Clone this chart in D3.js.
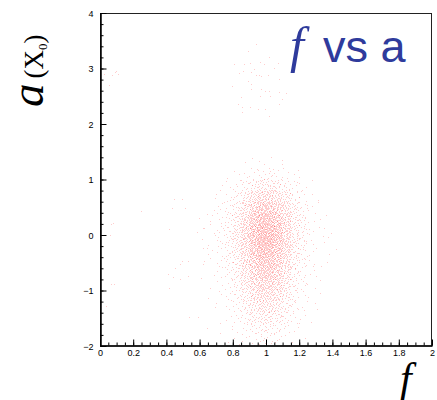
<!DOCTYPE html>
<html>
<head>
<meta charset="utf-8">
<script src="https://cdn.jsdelivr.net/npm/d3@7"></script>
<style>
  html,body{margin:0;padding:0;background:#fff;}
  svg{display:block;}
  .tick text{font-family:"Liberation Sans",Arial,sans-serif;font-size:9px;fill:#000;}
</style>
</head>
<body>
<svg id="chart" width="437" height="400"></svg>
<script>
// axis ranges + tick values
const fDomain = [0, 2];
const aDomain = [-2, 4];
const fMajor = d3.range(0, 2.001, 0.2);
const fMinor = d3.range(0, 2.001, 0.05);
const aMajor = [-2, -1, 0, 1, 2, 3, 4];
const aMinor = d3.range(-2, 4.001, 0.2);

// main cloud, read as counts per cell: f bins of 0.05 from 0.6, a bins of 0.2 from -2.0 (bottom row first)
const fBinStart = 0.6, fBinWidth = 0.05;
const aBinStart = -2.0, aBinWidth = 0.2;
const cloudCounts = [
  [0,0,0,1,2,2,4,6,6,4,2,1,1,0,0,0],          // -2.0..-1.8
  [0,0,1,1,2,4,8,10,10,8,4,2,1,0,0,0],
  [0,0,1,2,4,8,14,18,18,14,8,4,2,1,0,0],
  [0,1,1,2,6,12,20,28,26,20,12,6,2,1,0,0],
  [0,1,2,4,8,16,28,36,34,28,16,8,3,1,1,0],
  [0,1,2,4,10,22,36,46,44,36,22,10,4,2,1,0],
  [1,1,2,6,12,26,44,58,56,44,26,12,4,2,1,0],
  [1,1,4,8,16,32,52,70,66,52,32,14,6,2,1,1],
  [1,2,4,8,18,36,60,80,76,60,36,16,6,2,1,1],
  [1,2,4,10,20,40,68,90,86,68,40,18,8,2,1,1],
  [1,2,4,9,20,40,66,88,82,66,40,18,7,2,1,1],
  [1,2,4,8,17,34,58,76,72,58,36,18,7,2,1,1],
  [0,1,3,6,12,26,44,58,56,44,28,14,5,2,1,0],
  [0,1,2,4,8,18,28,38,36,28,18,9,4,1,1,0],
  [0,0,1,2,4,8,14,18,18,14,9,4,2,1,0,0],
  [0,0,0,1,2,2,4,6,6,4,3,2,1,0,0,0],
  [0,0,0,0,0,1,1,2,2,1,1,0,0,0,0,0]           // 1.2..1.4
];

// sparse points outside the cloud, [f, a]
const upperCluster = [
  [0.944,3.44],[0.894,3.31],[1.024,3.19],[0.813,3.07],[0.873,3.07],[0.908,3.09],[0.968,3.10],
  [0.990,3.08],[1.054,3.00],[1.078,3.09],[0.863,2.95],[0.930,2.98],[0.840,2.91],[0.910,2.92],
  [0.940,2.88],[0.960,2.87],[0.975,2.85],[1.014,2.87],[0.897,2.76],[1.084,2.81],[0.797,2.68],
  [0.913,2.71],[0.913,2.63],[0.970,2.62],[0.994,2.59],[1.020,2.58],[1.080,2.56],[1.124,2.55],
  [0.964,2.50],[1.030,2.50],[0.853,2.48],[1.100,2.45],[0.837,2.35],[0.859,2.29],[0.908,2.29],
  [0.953,2.27],[0.998,2.27],[0.859,2.20],[1.020,2.13],[1.084,2.35]
];
const leftCluster = [
  [0.030,2.89],[0.074,2.88],[0.094,2.93],[0.110,2.90],[0.056,2.70],[0.100,2.95]
];
const strayPoints = [
  [0.070,0.19],[0.080,0.20],[0.066,-0.005],[0.070,-0.89],[0.090,-0.89],[0.040,-1.28],
  [0.250,0.42],[0.446,0.64],[0.495,0.64],[0.434,0.48],[0.518,0.48],[0.420,0.10],[0.586,0.05],
  [0.626,0.11],[0.646,0.37],[0.626,-0.24],[0.494,-0.47],[0.536,-0.47],[0.482,-0.54],[0.454,-0.60],
  [0.412,-0.72],[0.443,-0.76],[0.532,-0.75],[0.482,-0.81],[0.418,-0.96],[0.626,-0.53],
  [0.542,-1.48],[0.592,-1.49],[0.646,-1.68],
  [1.214,0.79],[1.205,0.47],[1.249,0.47],[1.235,0.32],[1.295,0.25],[1.205,0.27],[1.230,0.11],
  [1.260,0.10],[1.350,0.12],[1.249,0.03],[1.375,-0.04],[1.229,-0.11],[1.229,-0.19],[1.205,-0.27],
  [1.422,-0.27],[1.239,-0.45],[1.235,-0.57],[1.285,-0.57],[1.309,-1.35]
];

const svg = d3.select('#chart');
const x = d3.scaleLinear().domain(fDomain).range([100, 432]);
const y = d3.scaleLinear().domain(aDomain).range([346, 13]);

// spread each cell's count over the cell (halton pattern, deterministic)
function halton(i, b){ let f=1, r=0; while(i>0){ f/=b; r+=f*(i%b); i=Math.floor(i/b);} return r; }
const pts = [];
let h = 1;
cloudCounts.forEach((row, i) => {
  row.forEach((n, j) => {
    for(let k=0;k<n;k++,h++){
      pts.push([fBinStart + (j + halton(h,2))*fBinWidth, aBinStart + (i + halton(h,3))*aBinWidth]);
    }
  });
});
upperCluster.concat(leftCluster, strayPoints).forEach(p => pts.push(p));

const dots = svg.append('g').attr('shape-rendering','crispEdges');
dots.selectAll('rect').data(pts).enter().append('rect')
  .attr('x', d => Math.floor(x(d[0])))
  .attr('y', d => Math.floor(y(d[1])))
  .attr('width', 1).attr('height', 1)
  .attr('fill', '#ff1a1a').attr('fill-opacity', 0.22);

// frame
svg.append('rect').attr('x', 100.5).attr('y', 13.5).attr('width', 331).attr('height', 332.5)
  .attr('fill','none').attr('stroke','#222').attr('stroke-width',1);

// axes, ticks inside
const yAxis = svg.append('g').attr('transform','translate(100.5,0)')
  .call(d3.axisLeft(y).tickValues(aMajor).tickSizeInner(-6).tickSizeOuter(0).tickPadding(7).tickFormat(d3.format('d')));
svg.append('g').attr('transform','translate(100.5,0)')
  .call(d3.axisLeft(y).tickValues(aMinor).tickSizeInner(-3).tickSizeOuter(0).tickFormat(''));
const xAxis = svg.append('g').attr('transform','translate(0,345.5)')
  .call(d3.axisBottom(x).tickValues(fMajor).tickSizeInner(-6).tickSizeOuter(0).tickPadding(3).tickFormat(d3.format('~g')));
svg.append('g').attr('transform','translate(0,345.5)')
  .call(d3.axisBottom(x).tickValues(fMinor).tickSizeInner(-3).tickSizeOuter(0).tickFormat(''));
svg.selectAll('.domain').attr('stroke','#000');
svg.selectAll('.tick line').attr('stroke','#000');
xAxis.selectAll('.tick text').attr('dy','0.8em');
yAxis.selectAll('.tick text').attr('dy','0.35em');

// title
const title = svg.append('text').attr('x', 290).attr('y', 62).attr('fill','#2f3b9c');
title.append('tspan').attr('font-family','"Liberation Serif","Times New Roman",serif')
  .attr('font-style','italic').attr('font-size', 50).text('f');
title.append('tspan').attr('font-family','"Liberation Sans",Arial,sans-serif')
  .attr('font-size', 45).attr('dx', 19).text('vs a');

// axis titles
svg.append('text').attr('x', 400).attr('y', 392)
  .attr('font-family','"Liberation Serif","Times New Roman",serif').attr('font-style','italic')
  .attr('font-size', 42).attr('fill','#000').text('f');

const yl = svg.append('text').attr('transform','translate(43,107) rotate(-90)')
  .attr('font-family','"Liberation Serif","Times New Roman",serif').attr('fill','#000');
yl.append('tspan').attr('font-style','italic').attr('font-size', 47).text('a');
yl.append('tspan').attr('font-size', 27).attr('dx', 5).text('(X');
yl.append('tspan').attr('font-size', 13).attr('dy', 4).text('0');
yl.append('tspan').attr('font-size', 27).attr('dy', -4).text(')');
</script>
</body>
</html>
